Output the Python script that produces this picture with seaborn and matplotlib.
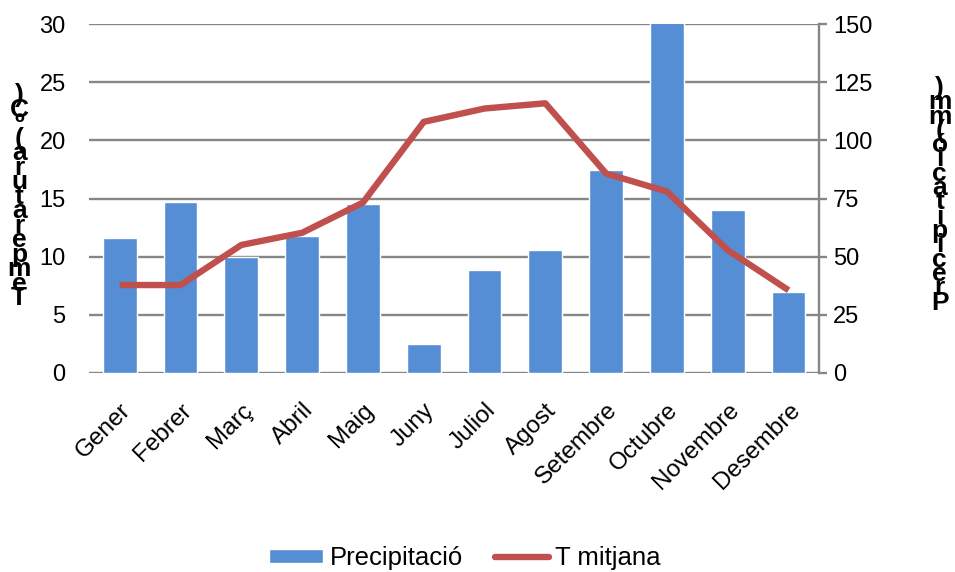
import numpy as np
import pandas as pd
import seaborn as sns
import matplotlib.pyplot as plt
from matplotlib.patches import Patch
from matplotlib.lines import Line2D

# Climograma: precipitacio (mm) i temperatura mitjana (C)
months = ['Gener', 'Febrer', 'Març', 'Abril', 'Maig', 'Juny', 'Juliol',
          'Agost', 'Setembre', 'Octubre', 'Novembre', 'Desembre']
precip = [58, 73.5, 49.7, 58.7, 72.7, 12.4, 44.2, 52.8, 87.3, 152, 70.1, 34.6]
temp = [7.55, 7.55, 11.0, 12.05, 14.65, 21.6, 22.75, 23.2, 17.15, 15.6, 10.55, 7.1]
temp_ticks = [0, 5, 10, 15, 20, 25, 30]
precip_ticks = [0, 25, 50, 75, 100, 125, 150]
temp_label = 'Temperatura (ºC)'
precip_label = 'Precipitació (mm)'

df = pd.DataFrame({'mes': months, 'precip': precip, 'temp': temp})

blue = '#558ED5'
red = '#C0504D'
grid_col = '#868686'

sns.set_theme(style='white')
plt.rcParams['font.family'] = ['Liberation Sans', 'DejaVu Sans']
plt.rcParams['text.color'] = 'black'

fig = plt.figure(figsize=(9.55, 5.72), dpi=100)
ax = fig.add_axes([0.0935, 0.3484, 0.7641, 0.6091])

# bars on the precipitation scale (right side)
sns.barplot(data=df, x='mes', y='precip', color=blue, saturation=1,
            width=0.555, ax=ax, zorder=2)
ax.set_ylim(0, 150)
ax.set_yticks(precip_ticks)
ax.grid(axis='y', color=grid_col, linewidth=1.7)
ax.set_axisbelow(True)
ax.set_xlabel('')
ax.set_ylabel('')

# temperature line (left side)
ax2 = ax.twinx()
sns.pointplot(data=df, x='mes', y='temp', color=red, markers='',
              linewidth=4.6, ax=ax2, zorder=3)
ax2.set_ylim(0, 30)
ax2.set_yticks(temp_ticks)
ax2.set_ylabel('')
ax2.set_xlabel('')
ax2.set_xlim(-0.5, len(months) - 0.5)
for ln in ax2.lines:
    ln.set_solid_capstyle('butt')

# axes styling: precipitation labels right, temperature labels left
ax.yaxis.tick_right()
ax2.yaxis.tick_left()
for s in ['top', 'left', 'bottom']:
    ax.spines[s].set_visible(False)
ax.spines['right'].set_visible(True)
ax.spines['right'].set_color(grid_col)
ax.spines['right'].set_linewidth(1.7)
for s in ax2.spines.values():
    s.set_visible(False)
ax.tick_params(axis='y', left=False, right=True, labelleft=False,
               labelright=True, length=6, width=1.7, color=grid_col,
               labelsize=17, pad=4, labelcolor='black')
ax.tick_params(axis='x', length=0, labelsize=17.5, pad=19, labelcolor='black')
plt.setp(ax.get_xticklabels(), rotation=45, ha='right', rotation_mode='anchor')
ax2.tick_params(axis='y', left=False, right=False, labelleft=True,
                labelright=False, length=0, labelsize=17, pad=17,
                labelcolor='black')

# stacked vertical axis titles
def stacked(txt):
    return '\n'.join(c for c in reversed(txt) if c != ' ')

fig.text(0.020, 0.458, stacked(temp_label), ha='center', va='bottom',
         fontsize=19, fontweight='bold', linespacing=0.5)
fig.text(0.984, 0.45, stacked(precip_label), ha='center', va='bottom',
         fontsize=19, fontweight='bold', linespacing=0.49)

handles = [Patch(facecolor=blue, label='Precipitació'),
           Line2D([0], [0], color=red, linewidth=4.6, label='T mitjana')]
fig.legend(handles=handles, loc='center', bbox_to_anchor=(0.487, 0.024),
           ncol=2, frameon=False, fontsize=18.5, handlelength=2.1,
           handleheight=0.5, columnspacing=1.25, handletextpad=0.25)

fig.savefig('out.png', dpi=100)
